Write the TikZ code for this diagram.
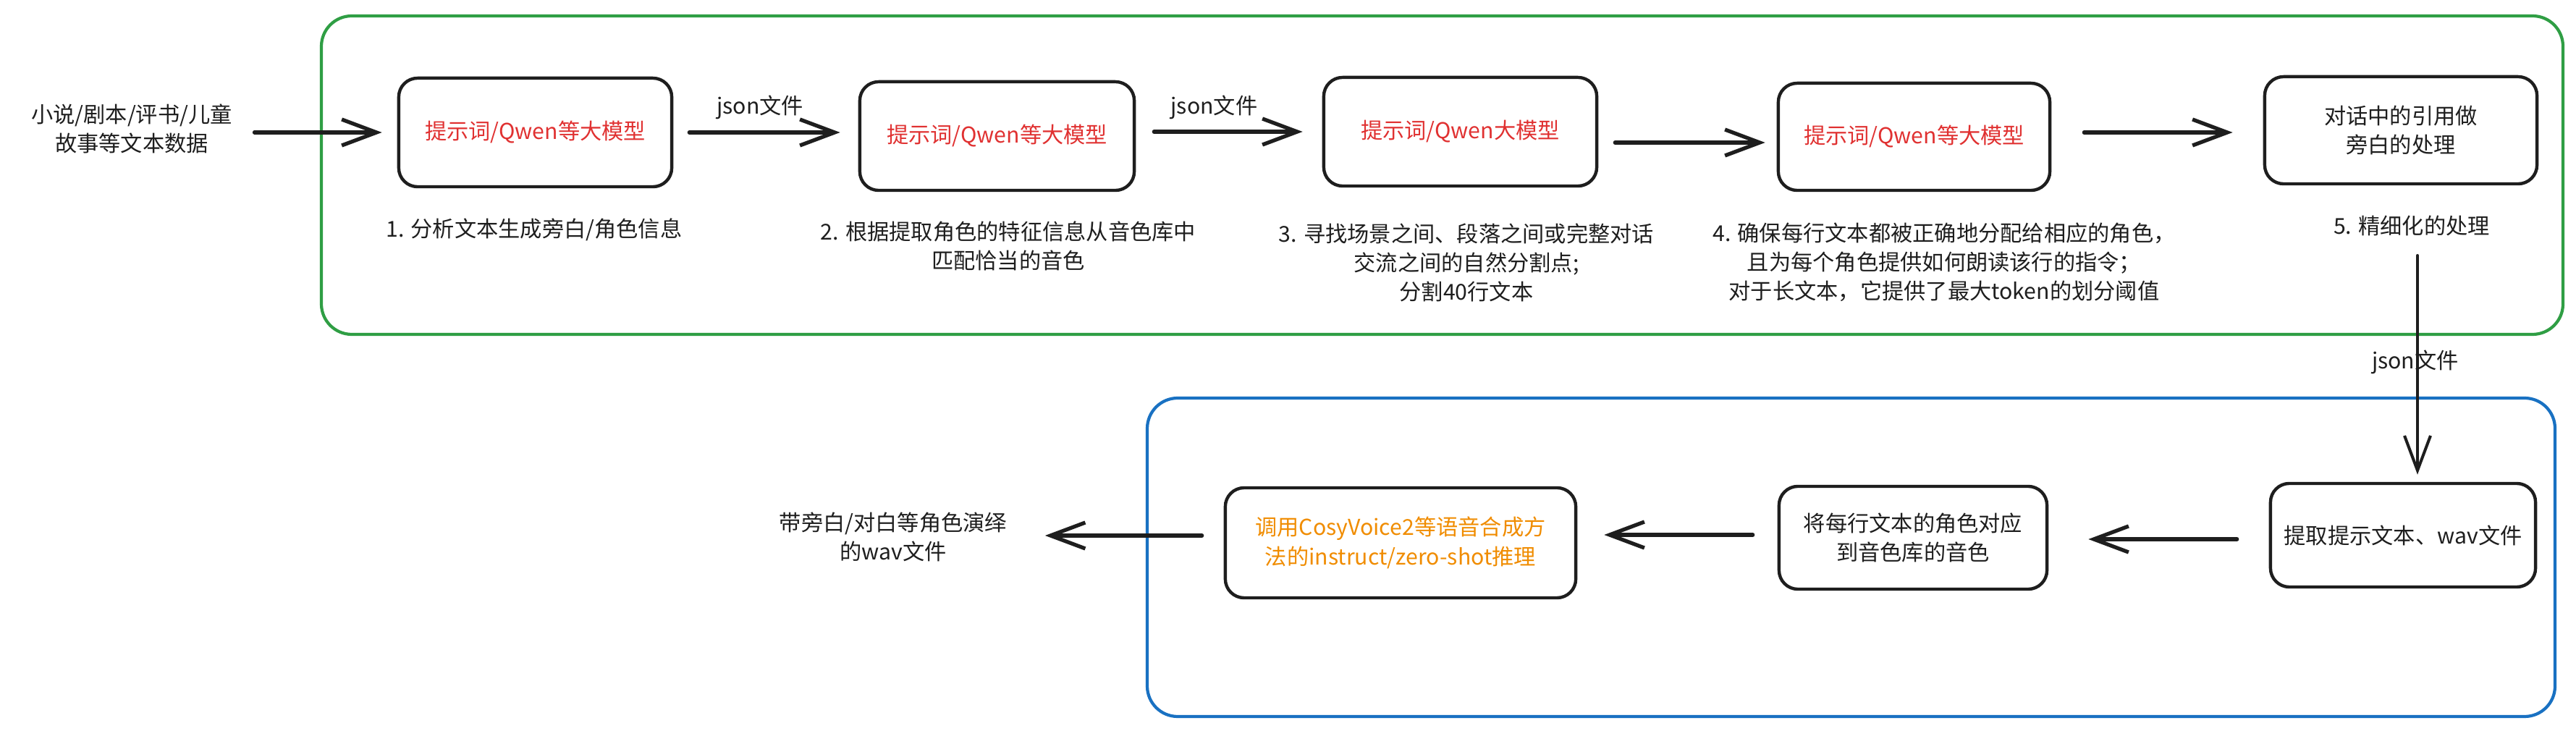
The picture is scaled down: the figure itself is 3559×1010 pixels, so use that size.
\documentclass[tikz,border=0pt]{standalone}
\usepackage{fontspec}
\setmainfont{Noto Sans CJK SC}
\usetikzlibrary{arrows.meta}
\definecolor{ink}{HTML}{1E1E1E}
\definecolor{exgreen}{HTML}{2F9E44}
\definecolor{exblue}{HTML}{1971C2}
\definecolor{exred}{HTML}{E03131}
\definecolor{exorange}{HTML}{F08C00}
\begin{document}
\begin{tikzpicture}[x=0.01cm,y=-0.01cm,
  txt/.style={font=\fontsize{8.6pt}{11.4pt}\selectfont, text=ink, align=center, inner sep=0pt},
  stepbox/.style={draw=ink, line width=1.25pt, rounded corners=0.26cm, align=center, inner sep=0pt,
                  font=\fontsize{8.6pt}{11.6pt}\selectfont, text=ink},
  arr/.style={draw=ink, line width=1.5pt, line cap=round,
              -{Straight Barb[length=0.48cm, width=0.36cm, line width=1.5pt]}},
  thinarr/.style={draw=ink, line width=1.15pt, line cap=round,
              -{Straight Barb[length=0.48cm, width=0.36cm, line width=1.15pt]}},
  frame/.style={line width=1.2pt, rounded corners=0.42cm}
]
\useasboundingbox (0,0) rectangle (3559,1010);

% group frames
\draw[frame, draw=exgreen] (444,22) rectangle (3541,462);
\draw[frame, draw=exblue] (1585,550) rectangle (3530,990);

% top row boxes
\node[stepbox, text=exred, minimum width=3.77cm, minimum height=1.50cm] (b1) at (739.5,183) {提示词/Qwen等大模型};
\node[stepbox, text=exred, minimum width=3.79cm, minimum height=1.50cm] (b2) at (1377.5,188) {提示词/Qwen等大模型};
\node[stepbox, text=exred, minimum width=3.77cm, minimum height=1.50cm] (b3) at (2017.5,182) {提示词/Qwen大模型};
\node[stepbox, text=exred, minimum width=3.75cm, minimum height=1.48cm] (b4) at (2644.5,189) {提示词/Qwen等大模型};
\node[stepbox, minimum width=3.76cm, minimum height=1.48cm] (b5) at (3317,180) {对话中的引用做\\旁白的处理};

% bottom row boxes
\node[stepbox, minimum width=3.66cm, minimum height=1.43cm] (b6) at (3320,739.5) {提取提示文本、wav文件};
\node[stepbox, minimum width=3.70cm, minimum height=1.42cm] (b7) at (2643,743) {将每行文本的角色对应\\到音色库的音色};
\node[stepbox, text=exorange, minimum width=4.84cm, minimum height=1.52cm] (b8) at (1935,750) {调用CosyVoice2等语音合成方\\法的instruct/zero-shot推理};

% free texts
\node[txt] (src) at (182,178) {小说/剧本/评书/儿童\\故事等文本数据};
\node[txt] (out) at (1234,742) {带旁白/对白等角色演绎\\的wav文件};

% captions
\node[txt] (c1) at (738,317) {1. 分析文本生成旁白/角色信息};
\node[txt] (c2) at (1393,340) {2. 根据提取角色的特征信息从音色库中\\匹配恰当的音色};
\node[txt] (c3) at (2026,363) {3. 寻找场景之间、段落之间或完整对话\\交流之间的自然分割点;\\分割40行文本};
\node[txt] (c4) at (2686,362) {4. 确保每行文本都被正确地分配给相应的角色，\\且为每个角色提供如何朗读该行的指令；\\对于长文本，它提供了最大token的划分阈值};
\node[txt] (c5) at (3332,312) {5. 精细化的处理};

% connectors, top row
\draw[arr, shorten <=0.30cm, shorten >=0.21cm] (src.east |- b1.west) -- (b1.west);
\draw[arr, shorten <=0.22cm, shorten >=0.25cm] (b1.east) -- (b1.east -| b2.west)
  node[pos=0.47, above=0.16cm, txt] (l1) {json文件};
\draw[arr, shorten <=0.25cm, shorten >=0.27cm] (b3.west -| b2.east) -- (b3.west)
  node[pos=0.42, above=0.15cm, txt] (l2) {json文件};
\draw[arr, shorten <=0.23cm, shorten >=0.16cm] ([yshift=-0.15cm]b3.east) -- ([yshift=-0.15cm]b3.east -| b4.west);
\draw[arr, shorten <=0.45cm, shorten >=0.42cm] ([yshift=0.06cm]b4.east) -- ([yshift=0.06cm]b4.east -| b5.west);

% vertical connector
\coordinate (vtop) at (3340,353);
\draw[thinarr, shorten >=0.10cm] (vtop) -- (vtop |- b6.north);
\node[txt] (l3) at (3337,500) {json文件};

% connectors, bottom row
\draw[arr, shorten <=0.44cm, shorten >=0.55cm] ([yshift=-0.055cm]b6.west) -- ([yshift=-0.055cm]b6.west -| b7.east);
\draw[arr, shorten <=0.34cm, shorten >=0.37cm] ([yshift=0.04cm]b7.west) -- ([yshift=0.04cm]b7.west -| b8.east);
\draw[arr, shorten <=0.30cm, shorten >=0.52cm] ([yshift=0.10cm]b8.west) -- ([yshift=0.10cm]b8.west -| out.east);
\end{tikzpicture}
\end{document}
